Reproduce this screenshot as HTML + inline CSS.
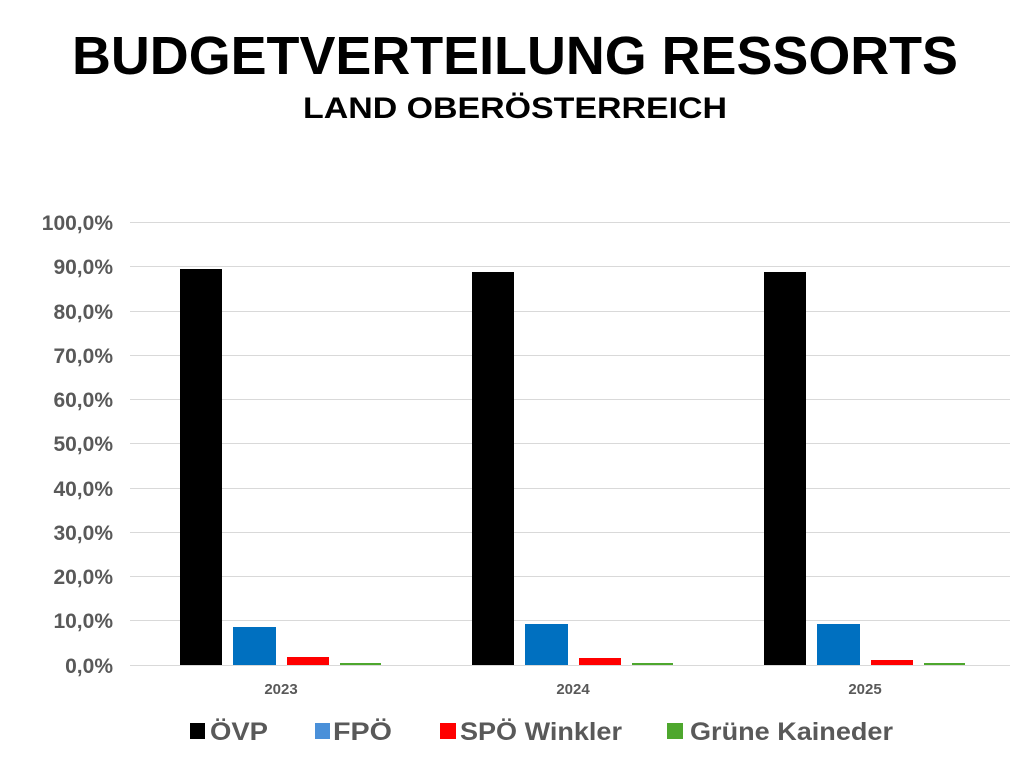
<!DOCTYPE html>
<html><head><meta charset="utf-8"><style>
body{margin:0;background:#fff;width:1024px;height:774px;overflow:hidden}
</style></head><body>
<svg width="1024" height="774" xmlns="http://www.w3.org/2000/svg" font-family="Liberation Sans, sans-serif">
<text x="72" y="74" font-size="54" font-weight="bold" fill="#000" textLength="886" lengthAdjust="spacingAndGlyphs">BUDGETVERTEILUNG RESSORTS</text>
<text x="303" y="118" font-size="30" font-weight="bold" fill="#000" textLength="424" lengthAdjust="spacingAndGlyphs">LAND OBERÖSTERREICH</text>
<g stroke="#d9d9d9" stroke-width="1">
<line x1="130" x2="1010" y1="222.5" y2="222.5"/><line x1="130" x2="1010" y1="266.5" y2="266.5"/>
<line x1="130" x2="1010" y1="311.5" y2="311.5"/><line x1="130" x2="1010" y1="355.5" y2="355.5"/>
<line x1="130" x2="1010" y1="399.5" y2="399.5"/><line x1="130" x2="1010" y1="443.5" y2="443.5"/>
<line x1="130" x2="1010" y1="488.5" y2="488.5"/><line x1="130" x2="1010" y1="532.5" y2="532.5"/>
<line x1="130" x2="1010" y1="576.5" y2="576.5"/><line x1="130" x2="1010" y1="620.5" y2="620.5"/>
<line x1="130" x2="1010" y1="665.5" y2="665.5"/>
</g>
<g font-size="21" font-weight="bold" fill="#595959" text-anchor="end">
<text x="113" y="230">100,0%</text><text x="113" y="274">90,0%</text><text x="113" y="319">80,0%</text>
<text x="113" y="363">70,0%</text><text x="113" y="407">60,0%</text><text x="113" y="451">50,0%</text>
<text x="113" y="496">40,0%</text><text x="113" y="540">30,0%</text><text x="113" y="584">20,0%</text>
<text x="113" y="628">10,0%</text><text x="113" y="673">0,0%</text>
</g>
<rect x="180" y="269" width="42" height="396" fill="#000"/>
<rect x="233" y="627" width="43" height="38" fill="#0070c0"/>
<rect x="287" y="657" width="42" height="8" fill="#ff0000"/>
<rect x="340" y="663" width="41" height="2" fill="#4ea72e"/>
<rect x="472" y="272" width="42" height="393" fill="#000"/>
<rect x="525" y="624" width="43" height="41" fill="#0070c0"/>
<rect x="579" y="658" width="42" height="7" fill="#ff0000"/>
<rect x="632" y="663" width="41" height="2" fill="#4ea72e"/>
<rect x="764" y="272" width="42" height="393" fill="#000"/>
<rect x="817" y="624" width="43" height="41" fill="#0070c0"/>
<rect x="871" y="660" width="42" height="5" fill="#ff0000"/>
<rect x="924" y="663" width="41" height="2" fill="#4ea72e"/>
<g font-size="15" font-weight="bold" fill="#595959" text-anchor="middle">
<text x="281" y="694">2023</text><text x="573" y="694">2024</text><text x="865" y="694">2025</text>
</g>
<rect x="190" y="723" width="15" height="16" fill="#000"/>
<rect x="315" y="723" width="15" height="16" fill="#4a90d9"/>
<rect x="440" y="723" width="16" height="16" fill="#ff0000"/>
<rect x="667" y="723" width="16" height="16" fill="#4ea72e"/>
<g font-size="25" font-weight="bold" fill="#595959">
<text x="210" y="740" textLength="58" lengthAdjust="spacingAndGlyphs">ÖVP</text>
<text x="333" y="740" textLength="59" lengthAdjust="spacingAndGlyphs">FPÖ</text>
<text x="460" y="740" textLength="162" lengthAdjust="spacingAndGlyphs">SPÖ Winkler</text>
<text x="690" y="740" textLength="203" lengthAdjust="spacingAndGlyphs">Grüne Kaineder</text>
</g>
</svg>
</body></html>
